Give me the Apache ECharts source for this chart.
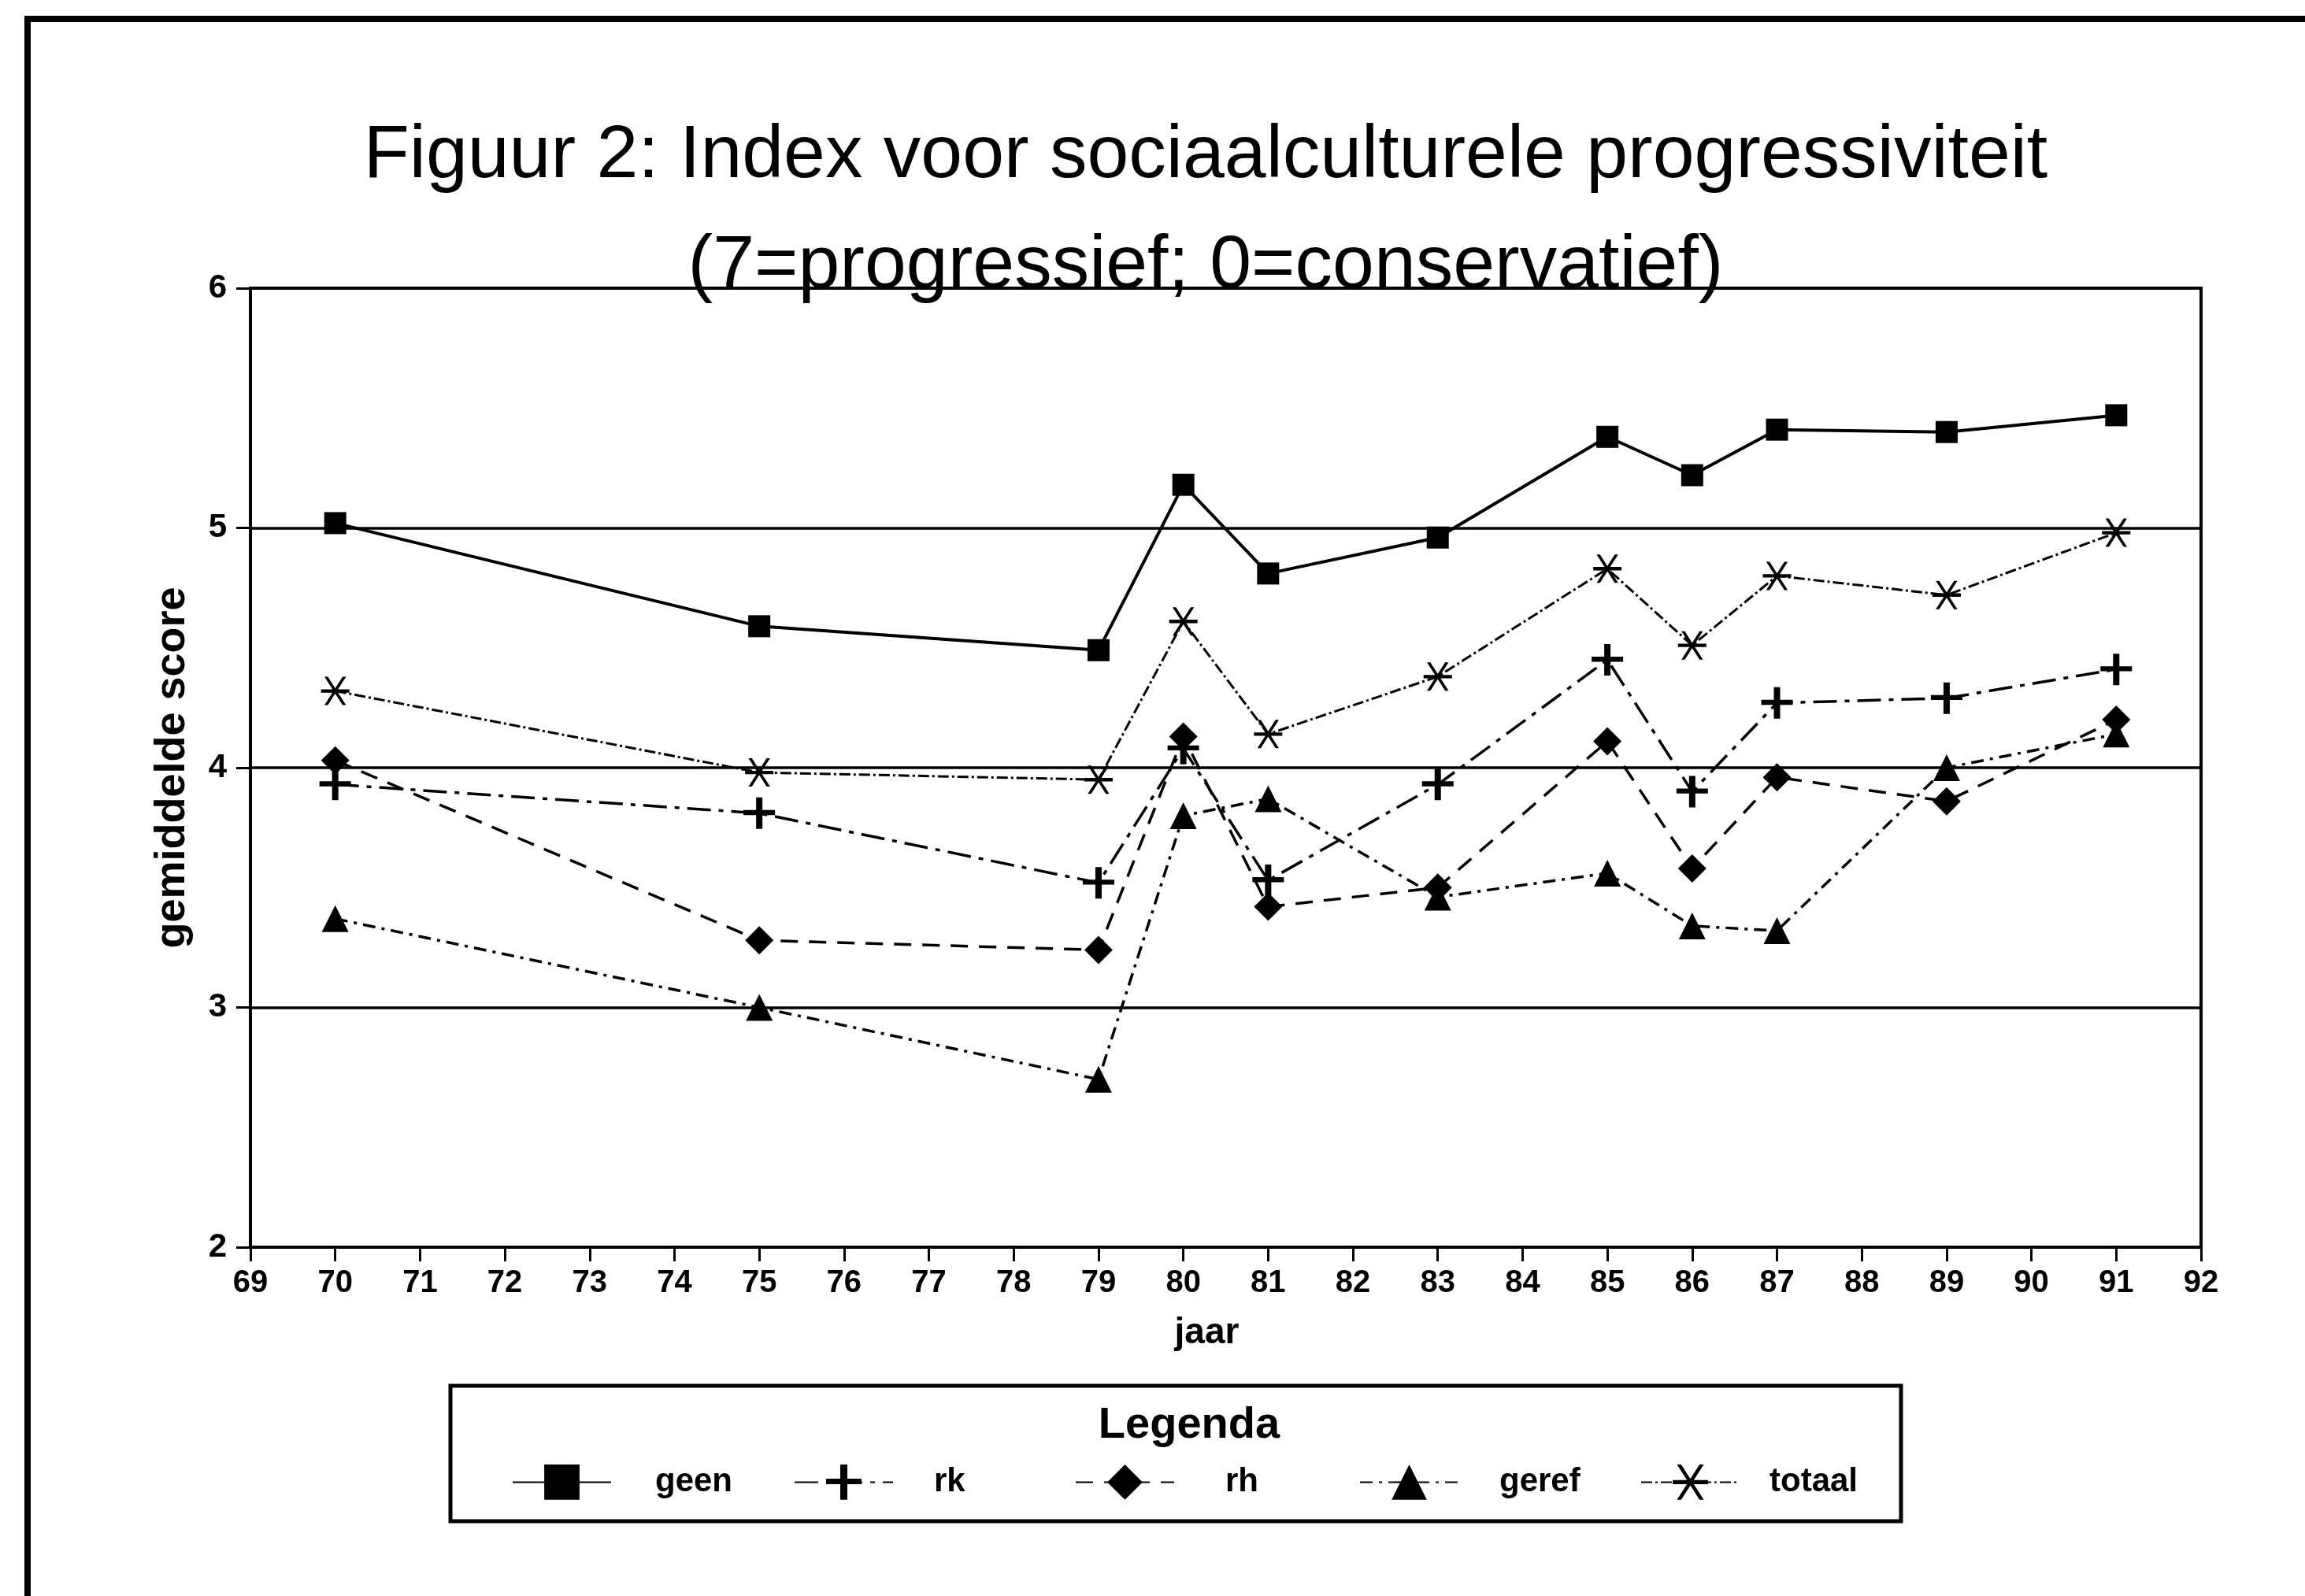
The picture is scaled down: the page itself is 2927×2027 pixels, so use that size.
<!DOCTYPE html>
<html>
<head>
<meta charset="utf-8">
<title>Figuur 2</title>
<script src="https://cdn.jsdelivr.net/npm/echarts@6/dist/echarts.min.js"></script>
<style>
html,body{margin:0;padding:0;background:#fff;}
#main{width:2927px;height:2027px;}
</style>
</head>
<body>
<div id="main"></div>
<script>
// jaren (x) en gemiddelde scores per groep
var jaren = [70, 75, 79, 80, 81, 83, 85, 86, 87, 89, 91];
var geen = [5.02, 4.59, 4.49, 5.18, 4.81, 4.96, 5.38, 5.22, 5.41, 5.40, 5.47];
var rk = [3.93, 3.81, 3.52, 4.08, 3.53, 3.93, 4.45, 3.90, 4.27, 4.29, 4.41];
var rh = [4.03, 3.28, 3.24, 4.13, 3.42, 3.50, 4.11, 3.58, 3.96, 3.86, 4.20];
var geref = [3.37, 3.00, 2.70, 3.80, 3.87, 3.46, 3.56, 3.34, 3.32, 4.00, 4.14];
var totaal = [4.32, 3.98, 3.95, 4.61, 4.14, 4.38, 4.83, 4.51, 4.80, 4.72, 4.98];

var groepen = ['geen', 'rk', 'rh', 'geref', 'totaal'];
var xMin = 69, xMax = 92;
var yMin = 2, yMax = 6;

var font = "'Liberation Sans', Arial, sans-serif";

// eigen symbolen: plus en sterretje
var plusPath = 'path://M4,0 L6,0 L6,4 L10,4 L10,5.6 L6,5.6 L6,10 L4,10 L4,5.6 L0,5.6 L0,4 L4,4 Z';
var sterPath = 'path://M0,4.4 L10,4.4 L10,5.6 L0,5.6 Z M1.2,0 L2.4,0 L8.8,10 L7.6,10 Z M7.6,0 L8.8,0 L2.4,10 L1.2,10 Z';

function paren(waarden) {
    return jaren.map(function (j, i) {
        return [j, waarden[i]];
    });
}

function maakSerie(naam, waarden, symbool, grootte, lijnType, breedte) {
    return {
        name: naam,
        type: 'line',
        data: paren(waarden),
        symbol: symbool,
        symbolSize: grootte,
        showAllSymbol: true,
        itemStyle: {color: '#000'},
        lineStyle: {color: '#000', width: breedte, type: lijnType},
        emphasis: {disabled: true},
        animation: false,
        z: 3
    };
}

var series = [
    maakSerie('geen', geen, 'rect', 28, 'solid', 4),
    maakSerie('rk', rk, plusPath, 40, [30, 10, 6, 10], 3.5),
    maakSerie('rh', rh, 'diamond', 36, [22, 14], 3.5),
    maakSerie('geref', geref, 'triangle', 34, [16, 8, 4, 8], 3.5),
    maakSerie('totaal', totaal, sterPath, 36, [14, 4, 3, 4], 3)
];

// legenda-items los geplaatst zoals in het origineel
var legendLeft = [645, 1003, 1360, 1721, 2078];
var tekstAfstand = [51, 47, 60, 47, 33];
var legends = groepen.map(function (g, i) {
    return {
        data: [g],
        left: legendLeft[i],
        top: 1855,
        itemWidth: 125,
        itemHeight: 56,
        selectedMode: false,
        textStyle: {
            fontFamily: font,
            fontSize: 42,
            fontWeight: 'bold',
            color: '#000',
            padding: [0, 0, 0, tekstAfstand[i]]
        }
    };
});

var chart = echarts.init(document.getElementById('main'));
var option = {
    backgroundColor: '#fff',
    animation: false,
    title: [{
        text: 'Figuur 2: Index voor sociaalculturele progressiviteit\n(7=progressief; 0=conservatief)',
        left: 1526,
        top: 124,
        textAlign: 'center',
        textStyle: {
            fontFamily: font,
            fontSize: 95,
            fontWeight: 'normal',
            color: '#000',
            lineHeight: 140
        }
    }, {
        text: 'Legenda',
        left: 1505,
        top: 1778,
        textAlign: 'center',
        textStyle: {fontFamily: font, fontSize: 56, fontWeight: 'bold', color: '#000'}
    }],
    legend: legends,
    grid: {
        left: 318,
        right: 132,
        top: 366,
        bottom: 443,
        show: true,
        borderColor: '#000',
        borderWidth: 4,
        backgroundColor: 'transparent'
    },
    xAxis: {
        type: 'value',
        min: xMin,
        max: xMax,
        interval: 1,
        name: 'jaar',
        nameLocation: 'middle',
        nameGap: 86,
        nameTextStyle: {fontFamily: font, fontSize: 46, fontWeight: 'bold', color: '#000', padding: [0, 48, 0, 0]},
        axisLine: {lineStyle: {color: '#000', width: 4}},
        axisTick: {show: true, length: 18, lineStyle: {color: '#000', width: 3}},
        axisLabel: {margin: 26, fontFamily: font, fontSize: 40, fontWeight: 'bold', color: '#000'},
        splitLine: {show: false}
    },
    yAxis: {
        type: 'value',
        min: yMin,
        max: yMax,
        interval: 1,
        name: 'gemiddelde score',
        nameLocation: 'middle',
        nameGap: 72,
        nameTextStyle: {fontFamily: font, fontSize: 54, fontWeight: 'bold', color: '#000'},
        axisLine: {show: true, lineStyle: {color: '#000', width: 4}},
        axisTick: {show: true, length: 18, lineStyle: {color: '#000', width: 3}},
        axisLabel: {margin: 30, fontFamily: font, fontSize: 42, fontWeight: 'bold', color: '#000'},
        splitLine: {show: true, lineStyle: {color: '#000', width: 3.5}}
    },
    graphic: [{
        // kader om de hele figuur
        type: 'rect',
        shape: {x: 35, y: 24, width: 3000, height: 2100},
        style: {fill: 'none', stroke: '#000', lineWidth: 8},
        silent: true
    }, {
        // kader om de legenda
        type: 'rect',
        shape: {x: 572, y: 1760, width: 1842, height: 172},
        style: {fill: 'none', stroke: '#000', lineWidth: 5},
        silent: true
    }],
    series: series
};
chart.setOption(option);
</script>
</body>
</html>
